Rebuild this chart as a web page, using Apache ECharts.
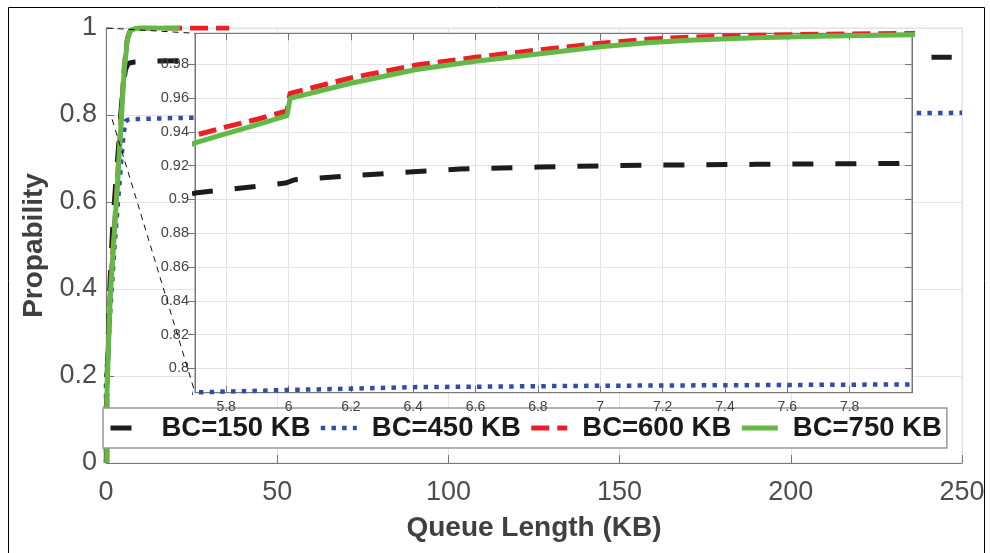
<!DOCTYPE html>
<html>
<head>
<meta charset="utf-8">
<script src="https://cdn.jsdelivr.net/npm/echarts@6/dist/echarts.min.js"></script>
<style>
html,body{margin:0;padding:0;background:#fff;}
#c{width:990px;height:553px;}
</style>
</head>
<body>
<div id="c"></div>
<script>
// ---------- data ----------
const seriesNames = ['BC=150 KB', 'BC=450 KB', 'BC=600 KB', 'BC=750 KB'];

const mainXTicks = [0, 50, 100, 150, 200, 250];
const mainYTicks = [0, 0.2, 0.4, 0.6, 0.8, 1];
const insetXTicks = [5.8, 6, 6.2, 6.4, 6.6, 6.8, 7, 7.2, 7.4, 7.6, 7.8];
const insetYTicks = [0.8, 0.82, 0.84, 0.86, 0.88, 0.9, 0.92, 0.94, 0.96, 0.98];
const mainXRange = [0, 250];
const mainYRange = [0, 1];
const insetXRange = [5.7, 8.0];
const insetYRange = [0.7856, 0.9984];

// BC=150 KB
const bc150X = [0.1, 0.1, 0.5, 1.2, 2, 3, 3.6, 4.3, 5, 5.7, 5.99, 6.02, 6.2, 6.4, 6.55, 6.8, 7, 7.2, 7.5, 8, 15, 30, 60, 120, 180, 247];
const bc150Y = [0, 0.12, 0.25, 0.42, 0.55, 0.66, 0.72, 0.8, 0.87, 0.9038, 0.9097, 0.9117, 0.914, 0.9164, 0.918, 0.9192, 0.9199, 0.9204, 0.9208, 0.9214, 0.924, 0.926, 0.928, 0.93, 0.9315, 0.9326];
// BC=450 KB
const bc450X = [0, 0, 0.5, 1.5, 2.5, 3.5, 4.5, 5.2, 5.7, 6, 6.2, 6.4, 7, 7.5, 8, 20, 50, 100, 180, 250];
const bc450Y = [0, 0.19, 0.25, 0.38, 0.5, 0.6, 0.7, 0.76, 0.7858, 0.7872, 0.788, 0.7889, 0.7897, 0.7901, 0.7905, 0.793, 0.796, 0.799, 0.802, 0.805];
// BC=600 KB
const bc600X = [0.25, 0.25, 0.5, 1.1, 1.7, 3.1, 3.8, 4.4, 4.9, 5.4, 5.7, 5.8, 5.9, 5.995, 6.005, 6.2, 6.41, 6.6, 6.8, 7, 7.16, 7.3, 7.5, 7.7, 8, 9, 12, 36];
const bc600Y = [0, 0.15, 0.22, 0.375, 0.45, 0.62, 0.71, 0.79, 0.86, 0.915, 0.938, 0.943, 0.9475, 0.9524, 0.9628, 0.972, 0.9796, 0.9842, 0.9885, 0.9925, 0.995, 0.9962, 0.9972, 0.9978, 0.9984, 0.9997, 1, 1];
// BC=750 KB
const bc750X = [0.25, 0.25, 0.5, 1.15, 1.7, 3.1, 3.8, 4.4, 4.9, 5.4, 5.7, 5.8, 5.9, 5.995, 6.005, 6.2, 6.41, 6.6, 6.8, 7, 7.16, 7.3, 7.5, 7.7, 8, 9, 12, 21.5];
const bc750Y = [0, 0.15, 0.214, 0.368, 0.44, 0.612, 0.70, 0.78, 0.85, 0.91, 0.9335, 0.939, 0.9443, 0.9496, 0.9599, 0.9688, 0.977, 0.9818, 0.9862, 0.9905, 0.993, 0.9945, 0.9958, 0.9967, 0.9976, 0.9995, 1, 1];

// zoom-box corners in main-axis coordinates (for the connector lines)
const zoomBoxTop = [0.2, 1.0];
const zoomBoxBottom = [1.8, 0.79];

// ---------- styles ----------
const FONT = 'Liberation Sans, Arial, Helvetica, sans-serif';
const lineStyles = [
  { color: '#1c1c1c', width: 5, type: [21, 22] },
  { color: '#2f4fa6', width: 4.5, type: [4.5, 6.2] },
  { color: '#ec1f26', width: 5, type: [18, 8] },
  { color: '#63b946', width: 5, type: 'solid' }
];

const zip = (xs, ys) => xs.map((x, i) => [x, ys[i]]);
const datasets = [zip(bc150X, bc150Y), zip(bc450X, bc450Y), zip(bc600X, bc600Y), zip(bc750X, bc750Y)];

const series = [];
[0, 1].forEach(g => {
  datasets.forEach((d, i) => {
    const s = lineStyles[i];
    series.push({
      type: 'line',
      name: seriesNames[i],
      xAxisIndex: g === 0 ? 0 : 1,
      yAxisIndex: g === 0 ? 0 : 1,
      data: d,
      symbol: 'none',
      showSymbol: false,
      clip: true,
      silent: true,
      animation: false,
      z: g === 0 ? 2 : 12,
      itemStyle: { color: s.color },
      lineStyle: { color: s.color, width: s.width, type: s.type, cap: 'butt', join: 'round' }
    });
  });
});

const axisGray = '#777';
const gridGray = '#e3e3e3';
const fmt = v => String(v);

const option = {
  animation: false,
  backgroundColor: '#fff',
  grid: [
    { left: 106, top: 28, width: 856, height: 435, show: true, borderColor: '#dcdcdc', borderWidth: 1, backgroundColor: 'transparent', z: 0 },
    { left: 195, top: 33.3, width: 717, height: 359.4, show: true, borderColor: axisGray, borderWidth: 1, backgroundColor: '#fff', z: 10 }
  ],
  xAxis: [
    {
      type: 'value', gridIndex: 0, min: mainXRange[0], max: mainXRange[1], position: 'bottom',
      axisLine: { show: true, onZero: false, lineStyle: { color: axisGray, width: 1 } },
      axisTick: { show: true, inside: true, length: 8, customValues: mainXTicks, lineStyle: { color: axisGray } },
      axisLabel: { fontSize: 27, color: '#4d4d4d', margin: 16, fontFamily: FONT, customValues: mainXTicks, formatter: fmt },
      splitLine: { show: true, lineStyle: { color: gridGray, width: 1 } },
      name: 'Queue Length (KB)', nameLocation: 'middle', nameGap: 51,
      nameTextStyle: { fontSize: 28, fontWeight: 'bold', color: '#404040', fontFamily: FONT }
    },
    {
      type: 'value', gridIndex: 1, min: insetXRange[0], max: insetXRange[1], position: 'bottom', z: 11,
      axisLine: { show: true, onZero: false, lineStyle: { color: axisGray, width: 1 } },
      axisTick: { show: true, inside: true, length: 7, customValues: insetXTicks, lineStyle: { color: axisGray } },
      axisLabel: { fontSize: 14, color: '#444', margin: 7, fontFamily: FONT, customValues: insetXTicks, formatter: fmt },
      splitLine: { show: true, lineStyle: { color: gridGray, width: 1 } }
    },
    {
      type: 'value', gridIndex: 1, min: insetXRange[0], max: insetXRange[1], position: 'top', z: 11,
      axisLine: { show: true, onZero: false, lineStyle: { color: axisGray, width: 1 } },
      axisTick: { show: true, inside: true, length: 7, customValues: insetXTicks, lineStyle: { color: axisGray } },
      axisLabel: { show: false },
      splitLine: { show: false }
    }
  ],
  yAxis: [
    {
      type: 'value', gridIndex: 0, min: mainYRange[0], max: mainYRange[1], position: 'left',
      axisLine: { show: true, onZero: false, lineStyle: { color: axisGray, width: 1 } },
      axisTick: { show: true, inside: true, length: 8, customValues: mainYTicks, lineStyle: { color: axisGray } },
      axisLabel: { fontSize: 27, color: '#4d4d4d', margin: 9, fontFamily: FONT, customValues: mainYTicks, formatter: fmt },
      splitLine: { show: true, lineStyle: { color: gridGray, width: 1 } },
      name: 'Propability', nameLocation: 'middle', nameGap: 45, nameRotate: 90,
      nameTextStyle: { fontSize: 28, fontWeight: 'bold', color: '#404040', fontFamily: FONT }
    },
    {
      type: 'value', gridIndex: 1, min: insetYRange[0], max: insetYRange[1], position: 'left', z: 11,
      axisLine: { show: true, onZero: false, lineStyle: { color: axisGray, width: 1 } },
      axisTick: { show: true, inside: false, length: 7, customValues: insetYTicks, lineStyle: { color: axisGray } },
      axisLabel: { fontSize: 14.5, color: '#444', margin: 6, fontFamily: FONT, customValues: insetYTicks, formatter: fmt },
      splitLine: { show: true, lineStyle: { color: gridGray, width: 1 } }
    },
    {
      type: 'value', gridIndex: 1, min: insetYRange[0], max: insetYRange[1], position: 'right', z: 11,
      axisLine: { show: true, onZero: false, lineStyle: { color: axisGray, width: 1 } },
      axisTick: { show: true, inside: true, length: 7, customValues: insetYTicks, lineStyle: { color: axisGray } },
      axisLabel: { show: false },
      splitLine: { show: false }
    }
  ],
  legend: {
    data: seriesNames,
    left: 103, top: 408,
    orient: 'horizontal',
    itemWidth: 36, itemHeight: 14, itemGap: 8,
    padding: [6, 5],
    backgroundColor: '#fff',
    borderColor: '#999', borderWidth: 1.5, borderRadius: 0,
    selectedMode: false,
    z: 5,
    itemStyle: { opacity: 0, borderWidth: 0 },
    lineStyle: { width: 'inherit', type: 'inherit', cap: 'butt' },
    textStyle: { fontSize: 27.5, fontWeight: 'bold', color: '#1a1a1a', fontFamily: FONT, padding: [0, 0, 0, 10] }
  },
  series: series
};

const chart = echarts.init(document.getElementById('c'), null, { renderer: 'canvas' });
chart.setOption(option);

const a1 = chart.convertToPixel({ gridIndex: 0 }, zoomBoxTop);
const a2 = chart.convertToPixel({ gridIndex: 0 }, zoomBoxBottom);
const b1 = chart.convertToPixel({ gridIndex: 1 }, [insetXRange[0], insetYRange[1]]);
const b2 = chart.convertToPixel({ gridIndex: 1 }, [insetXRange[0], insetYRange[0]]);

chart.setOption({
  graphic: [
    { type: 'line', z: 30, silent: true, shape: { x1: a1[0], y1: a1[1], x2: b1[0], y2: b1[1] }, style: { stroke: '#111', lineWidth: 1, lineDash: [6, 5] } },
    { type: 'line', z: 30, silent: true, shape: { x1: a2[0], y1: a2[1], x2: b2[0], y2: b2[1] }, style: { stroke: '#111', lineWidth: 1, lineDash: [6, 5] } },
    { type: 'rect', z: 30, silent: true, shape: { x: 8.5, y: 7.5, width: 976, height: 560 }, style: { fill: 'none', stroke: '#000', lineWidth: 1 } }
  ]
});
</script>
</body>
</html>
